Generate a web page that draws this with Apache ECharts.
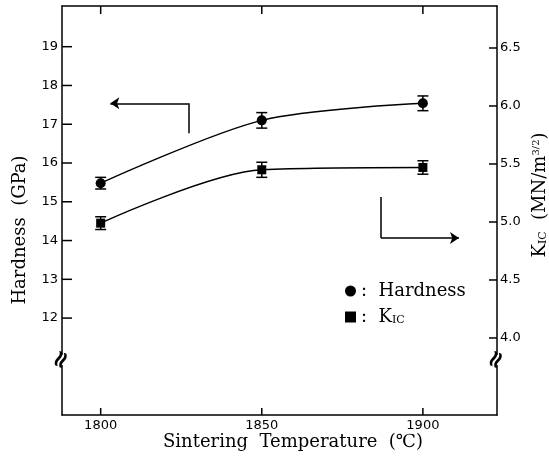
<!DOCTYPE html>
<html><head><meta charset="utf-8">
<script src="https://cdn.jsdelivr.net/npm/echarts@6/dist/echarts.min.js"></script>
<style>html,body{margin:0;padding:0;background:#fff}#c{width:549px;height:465px}</style>
</head><body><div id="c"></div>
<script>
const temps = [1800, 1850, 1900];
const hardness = [15.48, 17.10, 17.54];
const hardnessErr = [0.15, 0.20, 0.19];
const kic = [4.99, 5.45, 5.47];
const kicErr = [0.055, 0.065, 0.058];
const xTicks = [1800, 1850, 1900];
const leftTicks = [12, 13, 14, 15, 16, 17, 18, 19];
const rightTicks = [4.0, 4.5, 5.0, 5.5, 6.0, 6.5];
// annotation arrows in data coordinates: start, corner, tip
const hardArrow = [[1827.3, 16.77], [1827.3, 17.54], [1803, 17.54]];
const kicArrow = [[1887, 5.216], [1887, 4.862], [1911.2, 4.862]];

const BLACK = '#000';
const serif = '"DejaVu Serif", "Liberation Serif", serif';
const sans = '"DejaVu Sans", sans-serif';
const X_RANGE = { min: 1788, max: 1923 };
const L_RANGE = { min: 9.5, max: 20.05 };
const R_RANGE = { min: 3.336, max: 6.862 };
const tickStyle = { color: BLACK, width: 1.5 };

function errSeries(vals, errs, yIdx) {
  return {
    type: 'custom', xAxisIndex: 0, yAxisIndex: yIdx, silent: true, z: 3,
    data: temps.map((t, i) => [t, vals[i] - errs[i], vals[i] + errs[i]]),
    encode: { x: 0, y: [1, 2] },
    renderItem(params, api) {
      const lo = api.coord([api.value(0), api.value(1)]);
      const hi = api.coord([api.value(0), api.value(2)]);
      const w = 5.5;
      const st = { stroke: BLACK, lineWidth: 1.5 };
      return { type: 'group', children: [
        { type: 'line', shape: { x1: lo[0], y1: lo[1], x2: hi[0], y2: hi[1] }, style: st },
        { type: 'line', shape: { x1: lo[0] - w, y1: lo[1], x2: lo[0] + w, y2: lo[1] }, style: st },
        { type: 'line', shape: { x1: hi[0] - w, y1: hi[1], x2: hi[0] + w, y2: hi[1] }, style: st }
      ] };
    }
  };
}
function arrowSeries(pts, yIdx) {
  return [
    { type: 'lines', coordinateSystem: 'cartesian2d', xAxisIndex: 0, yAxisIndex: yIdx, silent: true,
      symbol: 'none', lineStyle: { color: BLACK, width: 1.5, opacity: 1 }, data: [{ coords: [pts[0], pts[1]] }] },
    { type: 'lines', coordinateSystem: 'cartesian2d', xAxisIndex: 0, yAxisIndex: yIdx, silent: true,
      symbol: ['none', 'arrow'], symbolSize: [6, 9], lineStyle: { color: BLACK, width: 1.5, opacity: 1 },
      data: [{ coords: [pts[1], pts[2]] }] }
  ];
}
// inward-pointing tick marks placed through the axes' own scales
function xTickSeries() {
  return { type: 'custom', xAxisIndex: 0, yAxisIndex: 0, silent: true, z: 5,
    data: xTicks.map(v => [v, L_RANGE.min]), encode: { x: 0, y: 1 },
    renderItem(params, api) {
      const cs = params.coordSys; const p = api.coord([api.value(0), api.value(1)]);
      const st = { stroke: BLACK, lineWidth: 1.5 };
      return { type: 'group', children: [
        { type: 'line', shape: { x1: p[0], y1: cs.y + cs.height, x2: p[0], y2: cs.y + cs.height - 7 }, style: st },
        { type: 'line', shape: { x1: p[0], y1: cs.y, x2: p[0], y2: cs.y + 8 }, style: st }
      ] };
    } };
}
function yTickSeries(ticks, yIdx, side, len) {
  return { type: 'custom', xAxisIndex: 0, yAxisIndex: yIdx, silent: true, z: 5,
    data: ticks.map(v => [X_RANGE.min, v]), encode: { x: 0, y: 1 },
    renderItem(params, api) {
      const cs = params.coordSys; const p = api.coord([api.value(0), api.value(1)]);
      const x0 = side === 'left' ? cs.x : cs.x + cs.width;
      const x1 = side === 'left' ? x0 + len : x0 - len;
      return { type: 'line', shape: { x1: x0, y1: p[1], x2: x1, y2: p[1] }, style: { stroke: BLACK, lineWidth: 1.5 } };
    } };
}

const chart = echarts.init(document.getElementById('c'), null, { renderer: 'canvas' });
chart.setOption({
  animation: false,
  backgroundColor: '#fff',
  grid: { left: 62, right: 52, top: 6, bottom: 50 },
  xAxis: [
    Object.assign({ type: 'value', position: 'bottom',
      axisLine: { lineStyle: tickStyle }, axisTick: { show: false },
      axisLabel: { customValues: xTicks, color: BLACK, fontFamily: sans, fontSize: 13, margin: 4, formatter: v => String(v) },
      splitLine: { show: false } }, X_RANGE),
    Object.assign({ type: 'value', position: 'top',
      axisLine: { lineStyle: tickStyle }, axisTick: { show: false },
      axisLabel: { show: false }, splitLine: { show: false } }, X_RANGE)
  ],
  yAxis: [
    Object.assign({ type: 'value', position: 'left',
      axisLine: { show: true, lineStyle: tickStyle }, axisTick: { show: false },
      axisLabel: { customValues: leftTicks, color: BLACK, fontFamily: sans, fontSize: 13, margin: 4, formatter: v => String(v) },
      splitLine: { show: false } }, L_RANGE),
    Object.assign({ type: 'value', position: 'right',
      axisLine: { show: true, lineStyle: tickStyle }, axisTick: { show: false },
      axisLabel: { customValues: rightTicks, color: BLACK, fontFamily: sans, fontSize: 13, margin: 3,
        formatter: v => v.toFixed(1) },
      splitLine: { show: false } }, R_RANGE)
  ],
  legend: {
    left: 340, top: 277, orient: 'vertical', itemWidth: 11, itemHeight: 11, itemGap: 8,
    selectedMode: false,
    data: [{ name: 'Hardness', icon: 'circle' }, { name: 'KIC', icon: 'rect' }],
    formatter: n => n === 'KIC' ? '{t|:  K}{s|IC}' : '{t|:  Hardness}',
    textStyle: { color: BLACK, rich: {
      t: { fontFamily: serif, fontSize: 18, color: BLACK },
      s: { fontFamily: serif, fontSize: 11, color: BLACK, verticalAlign: 'bottom' }
    } }
  },
  series: [
    { name: 'Hardness', type: 'line', xAxisIndex: 0, yAxisIndex: 0, z: 4,
      data: temps.map((t, i) => [t, hardness[i]]), smooth: 0.3,
      symbol: 'circle', symbolSize: 10,
      itemStyle: { color: BLACK }, lineStyle: { color: BLACK, width: 1.5 } },
    { name: 'KIC', type: 'line', xAxisIndex: 0, yAxisIndex: 1, z: 4,
      data: temps.map((t, i) => [t, kic[i]]), smooth: 0.3,
      symbol: 'rect', symbolSize: 9,
      itemStyle: { color: BLACK }, lineStyle: { color: BLACK, width: 1.5 } },
    errSeries(hardness, hardnessErr, 0),
    errSeries(kic, kicErr, 1),
    ...arrowSeries(hardArrow, 0),
    ...arrowSeries(kicArrow, 1),
    xTickSeries(),
    yTickSeries(leftTicks, 0, 'left', 10),
    yTickSeries(rightTicks, 1, 'right', 8)
  ],
  graphic: [
    { type: 'text', x: 293, y: 442, style: { text: 'Sintering  Temperature  (℃)', font: '18px ' + serif, fill: BLACK, align: 'center', verticalAlign: 'middle' } },
    { type: 'text', x: 20, y: 230, rotation: Math.PI / 2, style: { text: 'Hardness  (GPa)', font: '18px ' + serif, fill: BLACK, align: 'center', verticalAlign: 'middle' } },
    { type: 'text', x: 540, y: 195, rotation: Math.PI / 2, style: {
        text: '{k|K}{s|IC}{k|  (MN/m}{p|3/2}{k|)}', align: 'center', verticalAlign: 'middle',
        rich: {
          k: { fontFamily: serif, fontSize: 18, color: BLACK },
          s: { fontFamily: serif, fontSize: 11, color: BLACK, verticalAlign: 'bottom' },
          p: { fontFamily: serif, fontSize: 10, color: BLACK, verticalAlign: 'top' }
        } } },
    { type: 'rect', shape: { x: 57, y: 355, width: 10, height: 10 }, style: { fill: '#fff' }, z: 100 },
    { type: 'text', x: 62, y: 360, rotation: 1.15, z: 101, style: { text: '≈', font: 'bold 24px ' + sans, fill: BLACK, align: 'center', verticalAlign: 'middle' } },
    { type: 'rect', shape: { x: 492, y: 355, width: 10, height: 10 }, style: { fill: '#fff' }, z: 100 },
    { type: 'text', x: 497, y: 360, rotation: 1.15, z: 101, style: { text: '≈', font: 'bold 24px ' + sans, fill: BLACK, align: 'center', verticalAlign: 'middle' } }
  ]
});
</script>
</body></html>
